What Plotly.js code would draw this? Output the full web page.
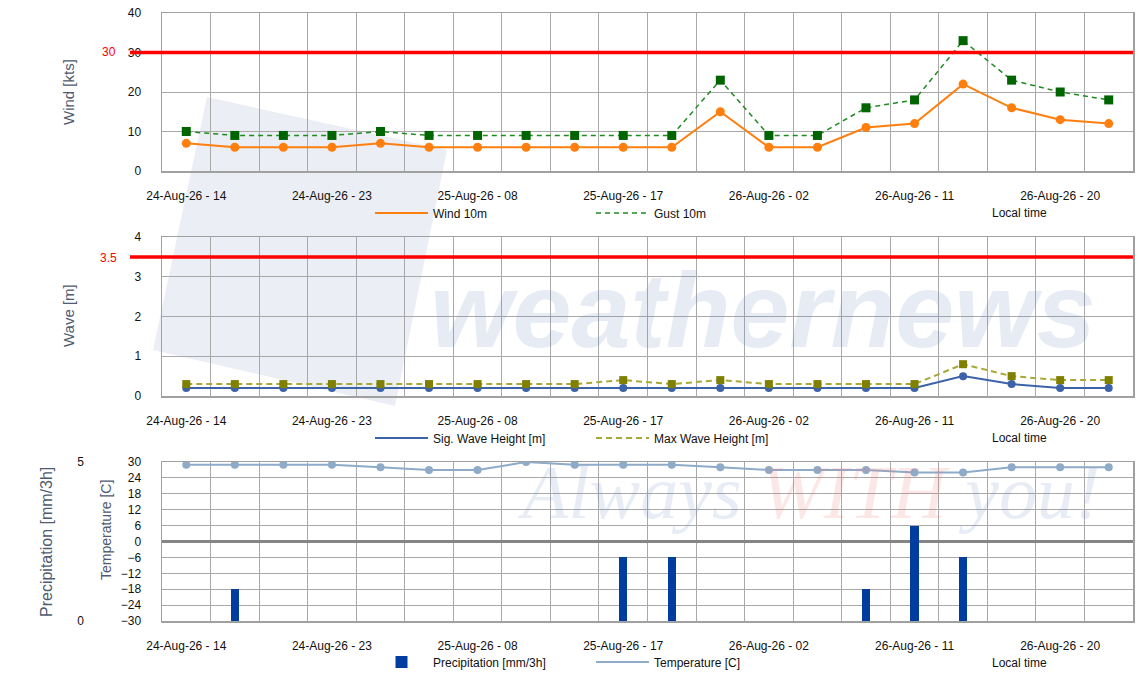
<!DOCTYPE html>
<html>
<head>
<meta charset="utf-8">
<script src="https://cdn.plot.ly/plotly-3.0.1.min.js"></script>
<style>html,body{margin:0;padding:0;background:#fff;}#chart{width:1144px;height:678px;}</style>
</head>
<body>
<div id="chart"></div>
<script>
// ---- data ----
const timeLabels = [
  "24-Aug-26 - 14","24-Aug-26 - 17","24-Aug-26 - 20","24-Aug-26 - 23",
  "25-Aug-26 - 02","25-Aug-26 - 05","25-Aug-26 - 08","25-Aug-26 - 11",
  "25-Aug-26 - 14","25-Aug-26 - 17","25-Aug-26 - 20","25-Aug-26 - 23",
  "26-Aug-26 - 02","26-Aug-26 - 05","26-Aug-26 - 08","26-Aug-26 - 11",
  "26-Aug-26 - 14","26-Aug-26 - 17","26-Aug-26 - 20","26-Aug-26 - 23"
];
const wind10m = [7,6,6,6,7,6,6,6,6,6,6,15,6,6,11,12,22,16,13,12];
const gust10m = [10,9,9,9,10,9,9,9,9,9,9,23,9,9,16,18,33,23,20,18];
const sigWave = [0.2,0.2,0.2,0.2,0.2,0.2,0.2,0.2,0.2,0.2,0.2,0.2,0.2,0.2,0.2,0.2,0.5,0.3,0.2,0.2];
const maxWave = [0.3,0.3,0.3,0.3,0.3,0.3,0.3,0.3,0.3,0.4,0.3,0.4,0.3,0.3,0.3,0.3,0.8,0.5,0.4,0.4];
const precip = [0,1,0,0,0,0,0,0,0,2,2,0,0,0,1,3,2,0,0,0];
const temperature = [29,29,29,29,28,27,27,30,29,29,29,28,27,27,27,26,26,28,28,28];
const windLimit = 30;
const waveLimit = 3.5;
const tickEvery = 3;

// ---- derived ----
const W = 1144, H = 678;
const xIdx = timeLabels.map((_, i) => i);
const tickVals = xIdx.filter(i => i % tickEvery === 0);
const tickText = tickVals.map(i => timeLabels[i]);
const bounds = timeLabels.map((_, i) => i - 0.5).concat([timeLabels.length - 0.5]);

const px = v => v / W;
const py = v => 1 - v / H;

const FONT = "Liberation Sans, Arial, sans-serif";
const gridC = '#a9a9a9';
const lineC = '#a0a0a0';

function xAxis(anchor) {
  return {
    domain: [px(162), px(1133)], anchor: anchor,
    range: [-0.5, timeLabels.length - 0.5],
    tickmode: 'array', tickvals: tickVals, ticktext: tickText,
    showgrid: false, zeroline: false, ticks: '',
    ticklabelstandoff: 13,
    tickfont: {family: FONT, size: 12, color: '#111'},
    showline: true, mirror: true, linecolor: lineC, linewidth: 1.5,
    minor: {tickmode: 'array', tickvals: bounds, showgrid: true, gridcolor: gridC, gridwidth: 1, ticks: ''},
    fixedrange: true
  };
}
function yAxis(anchor, dom, range, dtick) {
  return {
    domain: dom, anchor: anchor, range: range, dtick: dtick, tick0: 0,
    showgrid: true, gridcolor: gridC, gridwidth: 1,
    zeroline: false, ticks: '', ticklabelstandoff: 17,
    tickfont: {family: FONT, size: 12, color: '#111'},
    showline: true, mirror: true, linecolor: lineC, linewidth: 1.5,
    fixedrange: true
  };
}

// line series: legend entry shows the line only, markers drawn by a companion trace
function lineSeries(y, name, xa, ya, leg, lineStyle, markerStyle) {
  return [
    {x: xIdx, y: y, name: name, type: 'scatter', mode: 'lines', xaxis: xa, yaxis: ya,
     legend: leg, line: lineStyle, hoverinfo: 'skip'},
    {x: xIdx, y: y, name: name, type: 'scatter', mode: 'markers', xaxis: xa, yaxis: ya,
     showlegend: false, marker: markerStyle}
  ];
}

const traces = [].concat(
  lineSeries(wind10m, 'Wind 10m', 'x', 'y', 'legend',
    {color: '#ff7f0e', width: 2}, {symbol: 'circle', size: 9, color: '#ff7f0e'}),
  lineSeries(gust10m, 'Gust 10m', 'x', 'y', 'legend',
    {color: '#1f8b1f', width: 1.5, dash: '5px,4px'}, {symbol: 'square', size: 9, color: '#006400'}),
  lineSeries(sigWave, 'Sig. Wave Height [m]', 'x2', 'y2', 'legend2',
    {color: '#3c62a8', width: 2}, {symbol: 'circle', size: 8, color: '#3c62a8'}),
  lineSeries(maxWave, 'Max Wave Height [m]', 'x2', 'y2', 'legend2',
    {color: '#a8a838', width: 2, dash: '6px,4px'}, {symbol: 'square', size: 8, color: '#7f7f00'}),
  [{x: xIdx, y: precip, name: 'Precipitation [mm/3h]', type: 'bar', width: 0.17,
    xaxis: 'x3', yaxis: 'y4', legend: 'legend3',
    marker: {color: '#003d9e', line: {width: 0}}}],
  lineSeries(temperature, 'Temperature [C]', 'x3', 'y3', 'legend3',
    {color: '#8eabc8', width: 2}, {symbol: 'circle', size: 8, color: '#8eabc8'})
);

function legendAt(yPx) {
  return {orientation: 'h', x: px(370), xanchor: 'left', y: py(yPx), yanchor: 'middle',
          entrywidth: 153, entrywidthmode: 'pixels', itemwidth: 53,
          font: {family: FONT, size: 12, color: '#111'}, bgcolor: 'rgba(0,0,0,0)',
          borderwidth: 0, traceorder: 'normal', itemclick: false, itemdoubleclick: false};
}

const annTitle = (text, x, y, size) => ({
  text: text, xref: 'paper', yref: 'paper', x: px(x), y: py(y), textangle: -90,
  showarrow: false, xanchor: 'center', yanchor: 'middle',
  font: {family: FONT, size: size, color: '#4f5b70'}
});
const annPlain = (text, x, y, color) => ({
  text: text, xref: 'paper', yref: 'paper', x: px(x), y: py(y),
  showarrow: false, xanchor: 'center', yanchor: 'middle',
  font: {family: FONT, size: 12, color: color}
});

const annotations = [
  annTitle('Wind [kts]', 68, 92, 15),
  annTitle('Wave [m]', 68, 316, 15),
  annTitle('Precipitation [mm/3h]', 46, 542, 16),
  annTitle('Temperature [C]', 106, 530, 14),
  annPlain(String(windLimit), 109, 52, '#ff0000'),
  annPlain(String(waveLimit), 109, 258, '#ff0000'),
  annPlain('Local time', 1019, 213, '#111'),
  annPlain('Local time', 1019, 438, '#111'),
  annPlain('Local time', 1019, 663, '#111'),
  // watermark
  {text: '<b><i>weathernews</i></b>', xref: 'paper', yref: 'paper', x: px(763), y: py(310),
   showarrow: false, xanchor: 'center', yanchor: 'middle', opacity: 0.17,
   font: {family: FONT, size: 106, color: '#6e8cc3'}},
  {text: '<i>Always <span style="color:#f07070">WITH</span> you!</i>', xref: 'paper', yref: 'paper',
   x: px(808), y: py(492), showarrow: false, xanchor: 'center', yanchor: 'middle', opacity: 0.16,
   font: {family: 'Liberation Serif, Times New Roman, serif', size: 76, color: '#6e8cc3'}}
];

const logoPts = [[207,97],[447,150],[395,406],[153,350]];
const logoPath = 'M' + logoPts.map(p => px(p[0]) + ',' + py(p[1])).join('L') + 'Z';

const shapes = [
  {type: 'path', xref: 'paper', yref: 'paper', path: logoPath, fillcolor: '#ebeef5', line: {width: 0}, layer: 'below'},
  {type: 'line', xref: 'paper', yref: 'y', x0: px(130), x1: px(1133), y0: windLimit, y1: windLimit,
   line: {color: '#ff0000', width: 3.5}, layer: 'above'},
  {type: 'line', xref: 'paper', yref: 'y2', x0: px(130), x1: px(1133), y0: waveLimit, y1: waveLimit,
   line: {color: '#ff0000', width: 3.5}, layer: 'above'}
];

const y3 = yAxis('x3', [py(621), py(462)], [-30, 30], 6);
y3.zeroline = true; y3.zerolinecolor = '#858585'; y3.zerolinewidth = 2.5;

const layout = {
  width: W, height: H,
  margin: {l: 0, r: 0, t: 0, b: 0},
  paper_bgcolor: '#ffffff', plot_bgcolor: 'rgba(0,0,0,0)',
  font: {family: FONT, size: 12, color: '#111'},
  showlegend: true,
  xaxis: xAxis('y'),
  xaxis2: xAxis('y2'),
  xaxis3: xAxis('y3'),
  yaxis: yAxis('x', [py(171), py(13)], [0, 40], 10),
  yaxis2: yAxis('x2', [py(396), py(237)], [0, 4], 1),
  yaxis3: y3,
  yaxis4: {overlaying: 'y3', anchor: 'free', position: px(84), side: 'left', range: [0, 5],
           tickmode: 'array', tickvals: [0, 5], showgrid: false, zeroline: false, showline: false,
           ticks: '', ticklabelstandoff: 0, tickfont: {family: FONT, size: 12, color: '#111'}, fixedrange: true},
  legend: legendAt(213),
  legend2: legendAt(438),
  legend3: legendAt(662),
  annotations: annotations,
  shapes: shapes,
  bargap: 0
};

Plotly.newPlot('chart', traces, layout, {displayModeBar: false, staticPlot: true});
</script>
</body>
</html>
